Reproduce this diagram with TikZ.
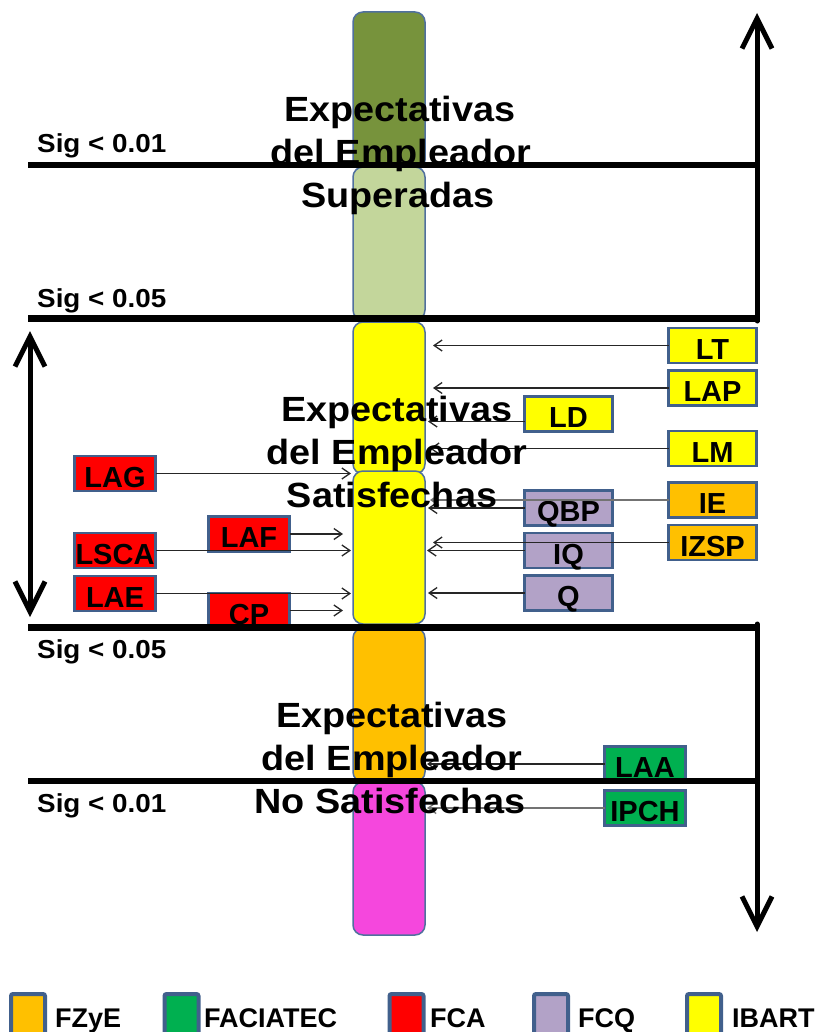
\documentclass[tikz,border=0pt]{standalone}
\usepackage{fontspec}
\setmainfont{Liberation Sans}
\usetikzlibrary{arrows.meta,calc}
\definecolor{dkgreen}{HTML}{77933C}
\definecolor{ltgreen}{HTML}{C3D69B}
\definecolor{ibyellow}{HTML}{FFFF00}
\definecolor{fzorange}{HTML}{FFC000}
\definecolor{magent}{HTML}{F547DD}
\definecolor{fcared}{HTML}{FF0000}
\definecolor{fcqpurple}{HTML}{B2A2C7}
\definecolor{facgreen}{HTML}{00B050}
\definecolor{boxborder}{HTML}{41608C}
\definecolor{colborder}{HTML}{50709E}
\newcommand{\widetxt}[1]{\scalebox{1.08}[1]{#1}}
\newcommand{\sigtxtw}[1]{\scalebox{1.07}[1]{#1}}
\tikzset{Bigbarb/.tip={Straight Barb[length=30pt,width=30pt]}}
\begin{document}
\begin{tikzpicture}[x=1pt,y=-1pt,
  seg/.style={draw=colborder, line width=1.5pt, rounded corners=10pt, minimum width=72pt, inner sep=0pt, outer sep=0pt},
  box/.style={draw=boxborder, line width=2.5pt, inner xsep=0pt, inner ysep=0pt, text height=31pt, text depth=4pt, outer sep=0pt, font=\fontsize{29}{30}\selectfont\bfseries},
  wbox/.style={box, minimum width=88pt},
  nbox/.style={box, minimum width=81pt},
  gbox/.style={box, minimum width=81pt},
  bigtxt/.style={anchor=base, inner sep=0pt, font=\fontsize{35}{40}\selectfont\bfseries},
  sigtxt/.style={anchor=base west, inner sep=0pt, font=\fontsize{26}{30}\selectfont\bfseries},
  legtxt/.style={anchor=base west, inner sep=0pt, font=\fontsize{27}{30}\selectfont\bfseries},
  legbox/.style={draw=boxborder, line width=4pt, rounded corners=2pt, minimum width=34pt, minimum height=50pt, inner sep=0pt},
  conn/.style={draw=black!85, line width=1.3pt, -{Straight Barb[length=8pt,width=11pt]}},
  bigarrow/.style={line width=5pt, line cap=round},
  thinlevel/.style={line width=5.5pt},
  thicklevel/.style={line width=7pt}
]
\useasboundingbox (0,0) rectangle (817,1032);
\fill[white] (0,0) rectangle (817,1032);
\clip (0,0) rectangle (817,1032);

% column
\node[seg, fill=dkgreen, minimum height=158pt] (s1) at (389,91) {};
\node[seg, fill=ltgreen, minimum height=153pt] (s2) at (389,243.5) {};
\node[seg, fill=ibyellow, minimum height=152pt] (s3) at (389,398) {};
\node[seg, fill=ibyellow, minimum height=153pt] (s4) at (389,547.5) {};
\node[seg, fill=fzorange, minimum height=154pt] (s5) at (389,705) {};
\node[seg, fill=magent, minimum height=153pt] (s6) at (389,858.5) {};

% boxes right
\node[wbox, fill=ibyellow] (LT) at (712.5,345.5) {LT};
\node[wbox, fill=ibyellow] (LAP) at (712.5,388) {LAP};
\node[wbox, fill=ibyellow] (LM) at (712.5,448.5) {LM};
\node[wbox, fill=fzorange] (IE) at (712.5,500) {IE};
\node[wbox, fill=fzorange] (IZSP) at (712.5,542.5) {IZSP};
\node[wbox, fill=ibyellow] (LD) at (568.5,414) {LD};
\node[wbox, fill=fcqpurple] (QBP) at (568.5,508) {QBP};
\node[wbox, fill=fcqpurple] (IQ) at (568.5,550.5) {IQ};
\node[wbox, fill=fcqpurple] (Q) at (568.5,593) {Q};
% boxes left
\node[nbox, fill=fcared] (LAG) at (115,473.5) {LAG};
\node[nbox, fill=fcared] (LSCA) at (115,550.5) {LSCA};
\node[nbox, fill=fcared] (LAE) at (115,593.5) {LAE};
\node[nbox, fill=fcared] (LAF) at (249,534) {LAF};
\node[nbox, fill=fcared] (CP) at (249,610.5) {CP};
% green
\node[gbox, fill=facgreen] (LAA) at (645,764) {LAA};
\node[gbox, fill=facgreen] (IPCH) at (645,808) {IPCH};

% connectors right
\coordinate (ldo) at ([yshift=10pt]LD.south west);
\draw[conn] (LT.west) -- ($(LT.west -| s3.east)+(8pt,0pt)$);
\draw[conn] (LAP.west) -- ($(LAP.west -| s3.east)+(8pt,0pt)$);
\draw[conn] (ldo) -- ($(ldo -| s3.east)+(3pt,0pt)$);
\draw[conn] (LM.west) -- ($(LM.west -| s3.east)+(5pt,0pt)$);
\draw[conn, draw=black!55] (IE.west) -- ($(IE.west -| s4.east)+(5pt,0pt)$);
\draw[conn] (QBP.west) -- ($(QBP.west -| s4.east)+(3pt,0pt)$);
\draw[conn] (IZSP.west) -- ($(IZSP.west -| s4.east)+(8pt,0pt)$);
\draw[conn] (IQ.west) -- ($(IQ.west -| s4.east)+(2pt,0pt)$);
\draw[conn] (Q.west) -- ($(Q.west -| s4.east)+(3pt,0pt)$);
\draw[conn] (LAA.west) -- ($(LAA.west -| s5.east)+(2pt,0pt)$);
\draw[conn, draw=black!55] (IPCH.west) -- ($(IPCH.west -| s6.east)+(2pt,0pt)$);
% connectors left
\draw[conn] (LAG.east) -- ($(LAG.east -| s3.west)+(-2pt,0pt)$);
\draw[conn] (LAF.east) -- ($(LAF.east -| s4.west)+(-10pt,0pt)$);
\draw[conn] (LSCA.east) -- ($(LSCA.east -| s4.west)+(-2pt,0pt)$);
\draw[conn] (LAE.east) -- ($(LAE.east -| s4.west)+(-2pt,0pt)$);
\draw[conn] (CP.east) -- ($(CP.east -| s4.west)+(-10pt,0pt)$);

% level lines
\coordinate (l1a) at (28,165);  \coordinate (l1b) at (760,165);
\coordinate (l2a) at (28,318);  \coordinate (l2b) at (760,318);
\coordinate (l3a) at (28,627);  \coordinate (l3b) at (760,627);
\coordinate (l4a) at (28,781);  \coordinate (l4b) at (760,781);
\draw[thinlevel] (l1a) -- (l1b);
\draw[thicklevel] (l2a) -- (l2b);
\draw[thicklevel] (l3a) -- (l3b);
\draw[thinlevel] (l4a) -- (l4b);

% big arrows
\coordinate (upb) at (757,321);  \coordinate (upt) at (757,13);
\coordinate (dnt) at (757,624);  \coordinate (dnb) at (757,932);
\coordinate (lft) at (30,331);   \coordinate (lfb) at (30,617);
\draw[bigarrow, -{Bigbarb}] (upb) -- (upt);
\draw[bigarrow, -{Bigbarb}] (dnt) -- (dnb);
\draw[bigarrow, {Bigbarb}-{Bigbarb}] (lft) -- (lfb);

% Sig labels
\node[sigtxt] (sg1) at (37,153) {\sigtxtw{Sig < 0.01}};
\node[sigtxt] (sg2) at (37,307) {\sigtxtw{Sig < 0.05}};
\node[sigtxt] (sg3) at (37,658) {\sigtxtw{Sig < 0.05}};
\node[sigtxt] (sg4) at (37,812) {\sigtxtw{Sig < 0.01}};

% big texts
\node[bigtxt] (ta1) at (400,122) {\widetxt{Expectativas}};
\node[bigtxt] (ta2) at (401,165) {\widetxt{del Empleador}};
\node[bigtxt] (ta3) at (398,208) {\widetxt{Superadas}};
\node[bigtxt] (tb1) at (397,421) {\widetxt{Expectativas}};
\node[bigtxt] (tb2) at (397,464) {\widetxt{del Empleador}};
\node[bigtxt] (tb3) at (392,507) {\widetxt{Satisfechas}};
\node[bigtxt] (tc1) at (392,727) {\widetxt{Expectativas}};
\node[bigtxt] (tc2) at (392,770) {\widetxt{del Empleador}};
\node[bigtxt] (tc3) at (390,813) {\widetxt{No Satisfechas}};

% legend
\node[legbox, fill=fzorange] (k1) at (28,1019) {};
\node[legbox, fill=facgreen] (k2) at (181.5,1019) {};
\node[legbox, fill=fcared] (k3) at (406.5,1019) {};
\node[legbox, fill=fcqpurple] (k4) at (551,1019) {};
\node[legbox, fill=ibyellow] (k5) at (704,1019) {};
\node[legtxt] (kt1) at (55,1027) {FZyE};
\node[legtxt] (kt2) at (204,1027) {FACIATEC};
\node[legtxt] (kt3) at (430,1027) {FCA};
\node[legtxt] (kt4) at (578,1027) {FCQ};
\node[legtxt] (kt5) at (732,1027) {IBART};
\end{tikzpicture}
\end{document}
